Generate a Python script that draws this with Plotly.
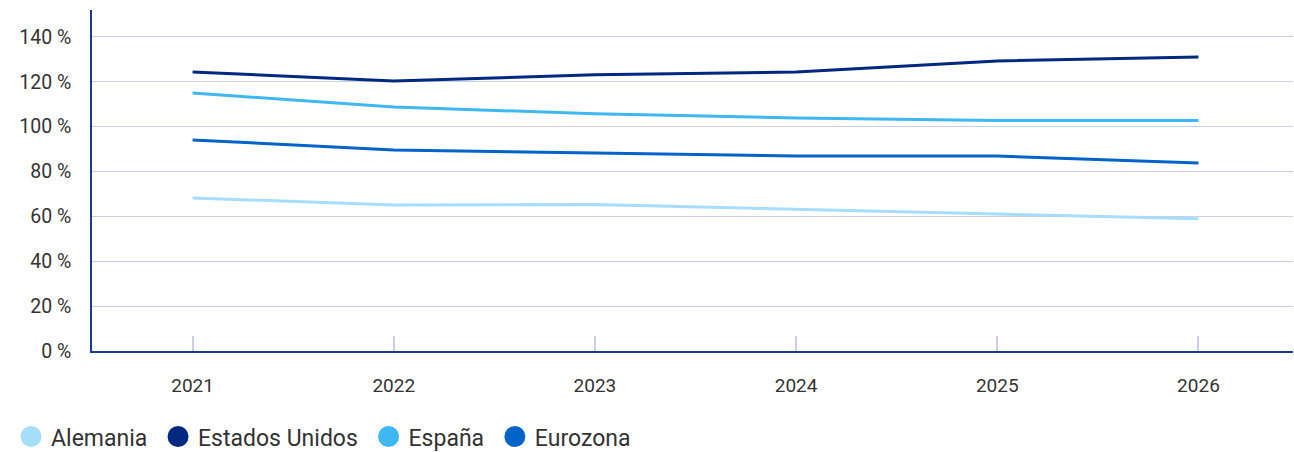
import plotly.graph_objects as go

years = ["2021", "2022", "2023", "2024", "2025", "2026"]
alemania = [68.2, 65.1, 65.3, 63.3, 61.1, 58.9]
estados_unidos = [124.4, 120.4, 123.1, 124.4, 129.3, 131.1]
espana = [115.0, 108.8, 105.7, 103.9, 102.8, 102.8]
eurozona = [94.1, 89.6, 88.3, 86.9, 86.9, 83.8]
y_ticks = [0, 20, 40, 60, 80, 100, 120, 140]
y_labels = [f"{v} %" for v in y_ticks]

series = [
    ("Alemania", alemania, "#a6ddf8"),
    ("Estados Unidos", estados_unidos, "#00287e"),
    ("España", espana, "#3fb8f1"),
    ("Eurozona", eurozona, "#0063c8"),
]

fig = go.Figure()
for name, vals, col in series:
    fig.add_trace(go.Scatter(x=years, y=vals, mode="lines", name=name,
                             line=dict(color=col, width=3), showlegend=False))
for name, vals, col in series:
    fig.add_trace(go.Scatter(x=[None], y=[None], mode="markers", name=name + "\u00a0",
                             marker=dict(color=col, size=26, symbol="circle",
                                         line=dict(color=col, width=5))))

font_fam = "Roboto, 'Noto Sans', sans-serif"
fig.update_layout(
    width=1294, height=452,
    margin=dict(l=92, r=1, t=10, b=101, autoexpand=False),
    paper_bgcolor="white", plot_bgcolor="white",
    font=dict(family=font_fam, color="#333333", size=19),
    legend=dict(orientation="h", x=-0.0674, y=-0.251, xref="paper", yref="paper",
                xanchor="left", yanchor="middle", font=dict(size=23, color="#333333"),
                itemsizing="trace", itemwidth=30, tracegroupgap=0),
    xaxis=dict(type="category", range=[-0.5, 5.47], showgrid=False,
               showline=True, linecolor="#1c3a8c", linewidth=1.5,
               ticks="inside", ticklen=15, tickcolor="#c8cfe6", tickwidth=1.5,
               ticklabelstandoff=16, tickfont=dict(size=19, color="#333333")),
    yaxis=dict(range=[0, 152], tickvals=y_ticks, ticktext=y_labels,
               showgrid=True, gridcolor="#c8cfe6", gridwidth=1.2,
               showline=True, linecolor="#1c3a8c", linewidth=1.5,
               zeroline=False, ticks="", ticklabelstandoff=15,
               tickfont=dict(size=19.5, color="#333333")),
)

post = ("document.body.style.margin='0px';document.body.style.padding='0px';"
        "var gd=document.getElementById('{plot_id}');Plotly.Plots.resize(gd);")
fig.write_html("out.html", post_script=post, config={"displayModeBar": False})
